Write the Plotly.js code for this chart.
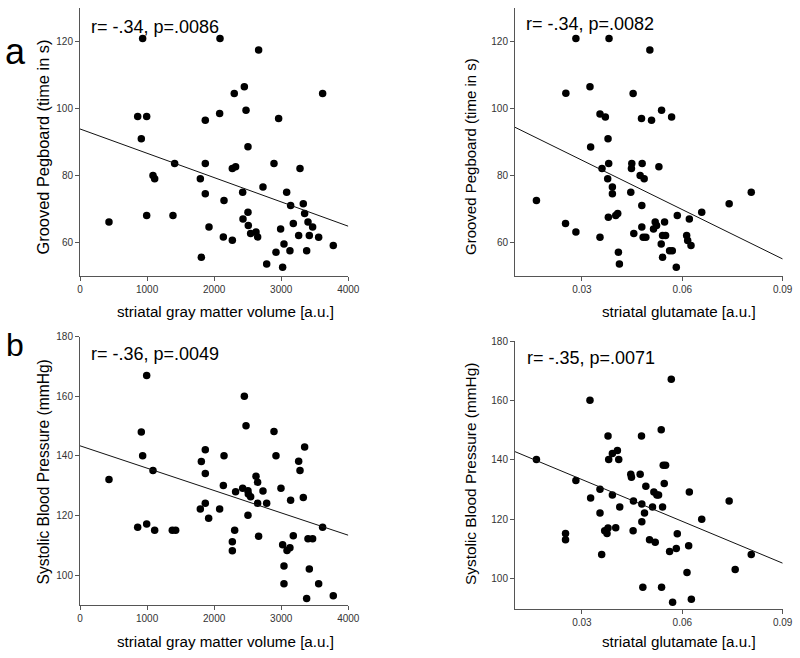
<!DOCTYPE html>
<html>
<head>
<meta charset="utf-8">
<script src="https://cdn.plot.ly/plotly-3.0.1.min.js"></script>
<style>html,body{margin:0;padding:0;background:#fff;}#chart{width:800px;height:658px;}</style>
</head>
<body>
<div id="chart"></div>
<script>
// Panel a (left): striatal gray matter volume vs Grooved Pegboard
var gmvPegX = [432,934,860,994,914,1088,1113,994,1411,1386,1794,1809,1868,1868,1868,1923,2087,2082,2147,2137,2271,2271,2320,2300,2450,2475,2504,2425,2430,2504,2509,2544,2624,2648,2663,2728,2783,2892,2961,2922,2991,3021,3041,3081,3130,3140,3180,3260,3280,3329,3349,3379,3399,3419,3468,3558,3617,3776];
var gmvPegY = [66.1,121,97.6,97.6,91,80,79,68,83.6,68,79,55.5,96.5,83.6,74.5,64.6,121,98.5,72.5,61.6,60.6,82.1,82.6,104.5,106.5,99.5,88.6,75,67,69,65,62.6,63.1,61.6,117.5,76.5,53.5,83.6,97,57,64,52.5,59.5,75,57.5,71,65.6,62,82.1,71.5,68.6,57.5,66.1,62,64.6,61.5,104.5,59];

// Panel a (right): striatal glutamate vs Grooved Pegboard
var gluPegX = [0.0164,0.0251,0.0252,0.0282,0.0282,0.0324,0.0326,0.0354,0.0354,0.0360,0.0370,0.0377,0.0378,0.0379,0.0380,0.0381,0.0391,0.0391,0.0401,0.0407,0.0409,0.0412,0.0446,0.0448,0.0449,0.0453,0.0455,0.0474,0.0478,0.0480,0.0479,0.0479,0.0486,0.0483,0.0491,0.0503,0.0508,0.0514,0.0519,0.0523,0.0530,0.0537,0.0538,0.0541,0.0541,0.0547,0.0550,0.0562,0.0570,0.0568,0.0582,0.0585,0.0613,0.0616,0.0621,0.0626,0.0658,0.0740,0.0806];
var gluPegY = [72.5,65.6,104.6,63.1,121,106.5,88.5,98.4,61.5,82.1,97.5,79,91,67.5,83.6,121,76.5,74.5,68,68.6,57,53.5,75,82.1,83.6,104.5,62.6,80,97,83.6,71,64.6,79,61.5,61.5,117.5,96.5,64,66.1,65,82.6,59.5,99.5,55.5,62,66.1,62,57.5,57.5,97.5,52.5,68,62,60.5,67,59,69,71.5,75];

// Panel b (left): striatal gray matter volume vs Systolic Blood Pressure
var gmvSbpX = [432,860,914,934,994,994,1088,1113,1376,1426,1794,1809,1868,1868,1868,1918,2082,2137,2147,2271,2271,2306,2320,2450,2475,2425,2504,2509,2504,2544,2624,2648,2648,2663,2728,2783,2892,2922,2996,3021,3041,3041,3086,3130,3140,3180,3260,3280,3329,3349,3379,3399,3419,3468,3558,3617,3776];
var gmvSbpY = [132.1,116.1,148,140.1,167,117.2,135.1,115.1,115.1,115.1,122.2,138.1,142.1,134.1,124.1,119.1,122.2,130.1,140.1,111.2,108.2,115.1,128,160,150.1,129.2,128.3,127.2,120.1,126.3,133.2,131.2,124.1,113.1,128.2,124.1,148.2,140.1,129.2,110.2,103.1,97.1,108.3,109.2,125.1,113.2,138.2,135.1,126.1,143,92.2,112.2,102.1,112.2,97.1,116.1,93.1];

// Panel b (right): striatal glutamate vs Systolic Blood Pressure
var gluSbpX = [0.0164,0.0251,0.0251,0.0282,0.0324,0.0326,0.0354,0.0354,0.0359,0.0368,0.0378,0.0378,0.0375,0.0380,0.0391,0.0391,0.0401,0.0406,0.0410,0.0413,0.0446,0.0448,0.0454,0.0453,0.0474,0.0478,0.0479,0.0479,0.0482,0.0487,0.0491,0.0502,0.0511,0.0515,0.0519,0.0524,0.0529,0.0537,0.0538,0.0541,0.0543,0.0550,0.0546,0.0562,0.0567,0.0571,0.0582,0.0585,0.0614,0.0619,0.0621,0.0627,0.0658,0.0740,0.0758,0.0806];
var gluSbpY = [140.2,115.3,113.2,133.1,160.1,127.2,130.2,122.2,108.2,116.2,148.1,117.1,115.3,140.2,142.2,128.2,117.2,143.2,140.2,124.2,135.2,134.2,126.2,116.2,135.2,148.1,125.2,119.2,97.2,122.2,131.2,113.2,124.2,129.2,112.3,128.2,128.2,150.2,97.2,124.2,138.2,138.2,132.1,109.2,167.1,92.2,110.2,115.2,102.2,111.2,129.2,93.2,120.1,126.2,103.2,108.2];

// Regression lines (end points)
var gmvFitX = [0, 4000];
var gmvPegFitY = [93.9, 64.8];
var gmvSbpFitY = [143.4, 113.4];
var gluFitX = [0.01, 0.09];
var gluPegFitY = [94.4, 55.0];
var gluSbpFitY = [142.8, 105.3];

// Texts
var statsLabels = ["r= -.34, p=.0086", "r= -.34, p=.0082", "r= -.36, p=.0049", "r= -.35, p=.0071"];
var panelLetters = ["a", "b"];
var xTitles = ["striatal gray matter volume [a.u.]", "striatal glutamate [a.u.]"];
var yTitles = ["Grooved Pegboard (time in s)", "Systolic Blood Pressure (mmHg)"];
var gmvTicks = [0, 1000, 2000, 3000, 4000];
var gluTicks = [0.03, 0.06, 0.09];
var gluTickText = ["0.03", "0.06", "0.09"];

var FONT = "Liberation Sans, Arial, sans-serif";

function pts(x, y, xa, ya) {
  return {type: "scatter", mode: "markers", x: x, y: y, xaxis: xa, yaxis: ya,
    marker: {color: "#000", size: 7.5, line: {width: 0}}, hoverinfo: "x+y"};
}
function fit(x, y, xa, ya) {
  return {type: "scatter", mode: "lines", x: x, y: y, xaxis: xa, yaxis: ya,
    line: {color: "#111", width: 1}, hoverinfo: "skip"};
}

var data = [
  pts(gmvPegX, gmvPegY, "x", "y"), fit(gmvFitX, gmvPegFitY, "x", "y"),
  pts(gluPegX, gluPegY, "x2", "y2"), fit(gluFitX, gluPegFitY, "x2", "y2"),
  pts(gmvSbpX, gmvSbpY, "x3", "y3"), fit(gmvFitX, gmvSbpFitY, "x3", "y3"),
  pts(gluSbpX, gluSbpY, "x4", "y4"), fit(gluFitX, gluSbpFitY, "x4", "y4")
];

function axisBase(extra) {
  var a = {showline: true, linecolor: "#555", linewidth: 1, ticks: "outside", ticklen: 4,
    tickcolor: "#555", tickwidth: 1, showgrid: false, zeroline: false,
    tickfont: {family: FONT, size: 10, color: "#333"}, fixedrange: true};
  for (var k in extra) a[k] = extra[k];
  return a;
}

var W = 800, H = 658;
function px(x) { return x / W; }
function py(y) { return 1 - y / H; }

var layout = {
  width: W, height: H, margin: {l: 0, r: 0, t: 0, b: 0},
  paper_bgcolor: "#fff", plot_bgcolor: "#fff", showlegend: false,
  font: {family: FONT, color: "#000"},
  xaxis: axisBase({domain: [px(80), px(348.3)], range: [0, 4000], tickvals: gmvTicks, anchor: "y"}),
  yaxis: axisBase({domain: [py(275.7), py(8.3)], range: [50, 130], dtick: 20, tick0: 0, anchor: "x"}),
  xaxis2: axisBase({domain: [px(515), px(782.7)], range: [0.01, 0.09], tickvals: gluTicks, ticktext: gluTickText, anchor: "y2"}),
  yaxis2: axisBase({domain: [py(275.7), py(8.3)], range: [50, 130], dtick: 20, tick0: 0, anchor: "x2"}),
  xaxis3: axisBase({domain: [px(80), px(348.3)], range: [0, 4000], tickvals: gmvTicks, anchor: "y3"}),
  yaxis3: axisBase({domain: [py(605), py(336.7)], range: [90, 180], dtick: 20, tick0: 0, anchor: "x3"}),
  xaxis4: axisBase({domain: [px(515), px(782.7)], range: [0.01, 0.09], tickvals: gluTicks, ticktext: gluTickText, anchor: "y4"}),
  yaxis4: axisBase({domain: [py(608.7), py(341)], range: [90, 180], dtick: 20, tick0: 0, anchor: "x4"}),
  annotations: []
};

function ann(text, x, y, size, opts) {
  var a = {text: text, xref: "paper", yref: "paper", x: px(x), y: py(y), showarrow: false,
    xanchor: "center", yanchor: "middle", font: {family: FONT, size: size, color: "#000"}};
  for (var k in (opts || {})) a[k] = opts[k];
  layout.annotations.push(a);
}

// stats
ann(statsLabels[0], 89, 27, 18, {xanchor: "left"});
ann(statsLabels[1], 524, 24, 18, {xanchor: "left"});
ann(statsLabels[2], 89, 354, 18, {xanchor: "left"});
ann(statsLabels[3], 525, 358, 18, {xanchor: "left"});
// panel letters
ann(panelLetters[0], 15.5, 52, 36);
ann(panelLetters[1], 15, 345, 32);
// x titles
ann(xTitles[0], 225, 312, 15.2);
ann(xTitles[1], 679, 312, 15.2);
ann(xTitles[0], 225, 641, 15.2);
ann(xTitles[1], 679, 641, 15.2);
// y titles
ann(yTitles[0], 43, 147.5, 16.4, {textangle: -90});
ann(yTitles[0], 470, 157, 15, {textangle: -90});
ann(yTitles[1], 43, 472.5, 15.6, {textangle: -90});
ann(yTitles[1], 470, 474, 15.4, {textangle: -90});

Plotly.newPlot("chart", data, layout, {displayModeBar: false, staticPlot: true});
</script>
</body>
</html>
